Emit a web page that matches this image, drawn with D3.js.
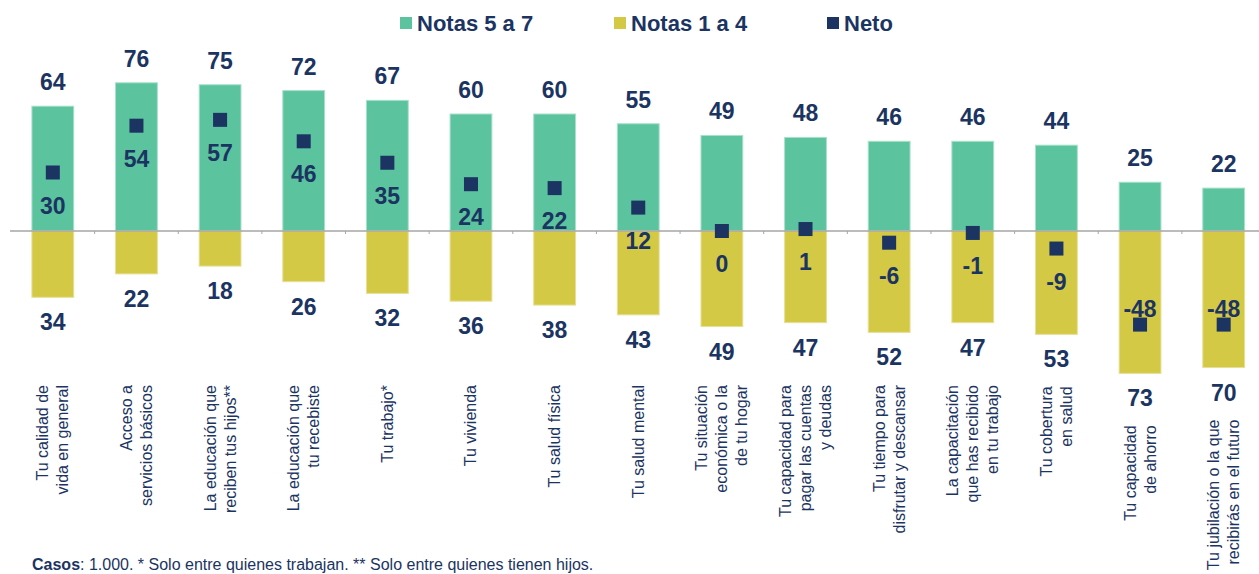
<!DOCTYPE html>
<html>
<head>
<meta charset="utf-8">
<script src="https://cdn.jsdelivr.net/npm/d3@7"></script>
<style>
  body { margin: 0; background: #fff; }
  text { font-family: "Liberation Sans", Arial, sans-serif; fill: #1b3461; }
</style>
</head>
<body>
<script>
// categories, one line per array entry
var categories = [
    ["Tu calidad de", "vida en general"],
    ["Acceso a", "servicios básicos"],
    ["La educación que", "reciben tus hijos**"],
    ["La educación que", "tu recebiste"],
    ["Tu trabajo*"],
    ["Tu vivienda"],
    ["Tu salud física"],
    ["Tu salud mental"],
    ["Tu situación", "económica o la", "de tu hogar"],
    ["Tu capacidad para", "pagar las cuentas", "y deudas"],
    ["Tu tiempo para", "disfrutar y descansar"],
    ["La capacitación", "que has recibido", "en tu trabajo"],
    ["Tu cobertura", "en salud"],
    ["Tu capacidad", "de ahorro"],
    ["Tu jubilación o la que", "recibirás en el futuro"]
];

var notas57 = [64, 76, 75, 72, 67, 60, 60, 55, 49, 48, 46, 46, 44, 25, 22];
var notas14 = [34, 22, 18, 26, 32, 36, 38, 43, 49, 47, 52, 47, 53, 73, 70];
var neto    = [30, 54, 57, 46, 35, 24, 22, 12, 0, 1, -6, -1, -9, -48, -48];

var legendNames = ["Notas 5 a 7", "Notas 1 a 4", "Neto"];

var green = "#5bc39e", yellow = "#d4c944", navy = "#1b3461";

var width = 1259, height = 574;

var svg = d3.select("body").append("svg")
    .attr("width", width)
    .attr("height", height);

var idx = d3.range(categories.length);

var x = d3.scaleBand()
    .domain(idx)
    .range([11, 1265.5])
    .paddingInner(0.5)
    .paddingOuter(0.25);

var y = d3.scaleLinear()
    .domain([-80, 80])
    .range([387, 75]);

var cx = function(i) { return x(i) + x.bandwidth() / 2; };

// legend
var legendX = [400, 614, 827];
var legendColors = [green, yellow, navy];
var legend = svg.append("g");
legendNames.forEach(function(name, i) {
    legend.append("rect")
        .attr("x", legendX[i]).attr("y", 17)
        .attr("width", 12).attr("height", 12)
        .attr("fill", legendColors[i]);
    legend.append("text")
        .attr("x", legendX[i] + 17).attr("y", 30.5)
        .style("font-size", "22px")
        .style("font-weight", "bold")
        .text(name);
});

// bars
svg.selectAll(".pos")
    .data(idx)
    .enter().append("rect")
    .attr("class", "pos")
    .attr("x", function(i) { return x(i); })
    .attr("y", function(i) { return y(notas57[i]); })
    .attr("width", x.bandwidth())
    .attr("height", function(i) { return y(0) - y(notas57[i]); })
    .attr("fill", green)
    .attr("stroke", "#a9e0cb")
    .attr("stroke-width", 1);

svg.selectAll(".neg")
    .data(idx)
    .enter().append("rect")
    .attr("class", "neg")
    .attr("x", function(i) { return x(i); })
    .attr("y", y(0))
    .attr("width", x.bandwidth())
    .attr("height", function(i) { return y(-notas14[i]) - y(0); })
    .attr("fill", yellow)
    .attr("stroke", "#e6df98")
    .attr("stroke-width", 1);

// zero axis
svg.append("line")
    .attr("x1", 10).attr("x2", width)
    .attr("y1", y(0)).attr("y2", y(0))
    .attr("stroke", "#a6a6a6")
    .attr("stroke-width", 1.5);

svg.selectAll(".tick")
    .data(d3.range(1, categories.length))
    .enter().append("line")
    .attr("x1", function(i) { return x(i) - x.step() * x.paddingInner() / 2; })
    .attr("x2", function(i) { return x(i) - x.step() * x.paddingInner() / 2; })
    .attr("y1", y(0)).attr("y2", y(0) + 3)
    .attr("stroke", "#a6a6a6");

// value labels
svg.selectAll(".lblPos")
    .data(idx)
    .enter().append("text")
    .attr("x", cx)
    .attr("y", function(i) { return y(notas57[i]) - 16; })
    .attr("text-anchor", "middle")
    .style("font-size", "23px")
    .style("font-weight", "bold")
    .text(function(i) { return notas57[i]; });

svg.selectAll(".lblNeg")
    .data(idx)
    .enter().append("text")
    .attr("x", cx)
    .attr("y", function(i) { return y(-notas14[i]) + 33; })
    .attr("text-anchor", "middle")
    .style("font-size", "23px")
    .style("font-weight", "bold")
    .text(function(i) { return notas14[i]; });

// net markers
svg.selectAll(".net")
    .data(idx)
    .enter().append("rect")
    .attr("x", function(i) { return cx(i) - 7; })
    .attr("y", function(i) { return y(neto[i]) - 7; })
    .attr("width", 14).attr("height", 14)
    .attr("fill", navy);

svg.selectAll(".lblNet")
    .data(idx)
    .enter().append("text")
    .attr("x", cx)
    .attr("y", function(i) { return neto[i] < -20 ? y(neto[i]) - 8 : y(neto[i]) + 41; })
    .attr("text-anchor", "middle")
    .style("font-size", "23px")
    .style("font-weight", "bold")
    .text(function(i) { return neto[i]; });

// category labels, rotated
var cat = svg.selectAll(".cat")
    .data(idx)
    .enter().append("g")
    .attr("transform", function(i) {
        var top = Math.max(385, y(-notas14[i]) + 33 + 19);
        return "translate(" + cx(i) + "," + top + ") rotate(-90)";
    });

cat.append("text")
    .attr("text-anchor", "end")
    .style("font-size", "16px")
    .each(function(i) {
        var lines = categories[i];
        var t = d3.select(this);
        lines.forEach(function(l, k) {
            t.append("tspan")
                .attr("x", 0)
                .attr("y", (k - (lines.length - 1) / 2) * 20 + 5.5)
                .text(l);
        });
    });

// footnote
var foot = svg.append("text")
    .attr("x", 32).attr("y", 570)
    .style("font-size", "16px");
foot.append("tspan").style("font-weight", "bold").text("Casos");
foot.append("tspan").text(": 1.000. * Solo entre quienes trabajan. ** Solo entre quienes tienen hijos.");
</script>
</body>
</html>
